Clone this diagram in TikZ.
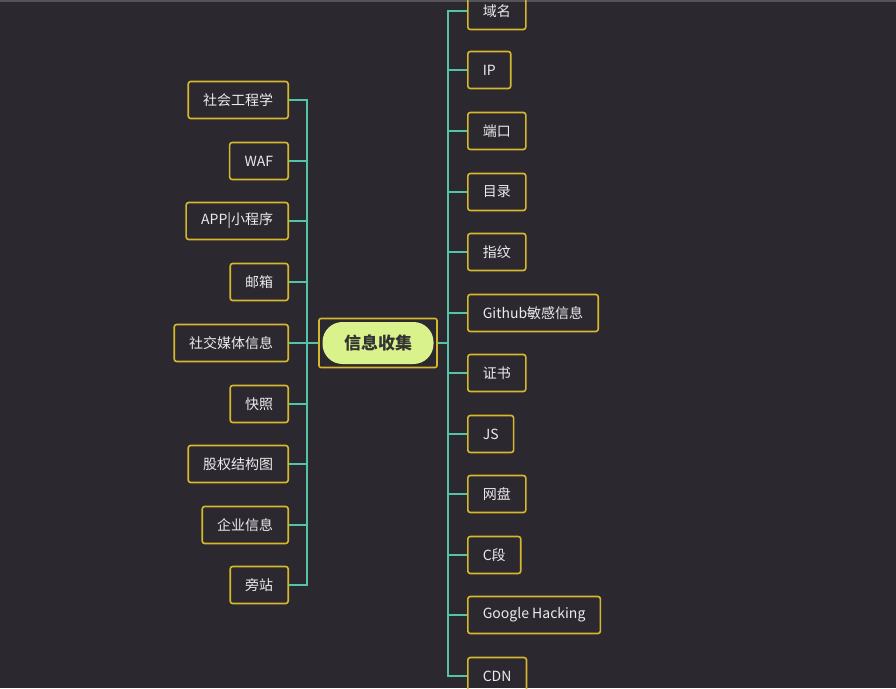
\documentclass[tikz,border=0pt]{standalone}
\usepackage{fontspec}
\usepackage{xcolor}
\usepackage{tikz}
\newfontfamily\cjk{Noto Sans CJK SC}
\definecolor{bgdark}{HTML}{2C2830}
\definecolor{boxgold}{HTML}{D6B82C}
\definecolor{linkteal}{HTML}{55C2AA}
\definecolor{rootgreen}{HTML}{D9F28C}
\definecolor{topgray}{HTML}{56545A}
\tikzset{
  leaf/.style={draw=boxgold, line width=1.6pt, rounded corners=2.5pt,
               text=white!92!black, font=\cjk\fontsize{14}{16}\selectfont,
               inner xsep=15pt, minimum height=37pt},
  link/.style={draw=linkteal, line width=2.4pt},
}
\begin{document}
\begin{tikzpicture}[x=1pt, y=-1pt]
      \useasboundingbox (0,0) rectangle (896,688);
      \clip (0,0) rectangle (896,688);
      \fill[bgdark] (0,0) rectangle (896,688);
      \draw[topgray, line width=1.6pt] (0,0.8) -- (896,0.8);

      % centre
      \node[draw=boxgold, line width=1.6pt, rounded corners=2pt,
            minimum width=118pt, minimum height=49pt] (rootbox) at (378,343) {};
      \node[fill=rootgreen, rounded corners=20pt, minimum width=111pt,
            minimum height=42pt, text=black!80,
            font=\cjk\bfseries\fontsize{17}{20}\selectfont] (root) at (378,343) {信息收集};

      % left side
      \coordinate (ltrunk) at (307,343);
      \node[leaf, anchor=east] (social)  at (289,100) {社会工程学};
      \node[leaf, anchor=east] (waf)     at (289,161) {WAF};
      \node[leaf, anchor=east] (app)     at (289,221) {APP|小程序};
      \node[leaf, anchor=east] (mail)    at (289,282) {邮箱};
      \node[leaf, anchor=east] (media)   at (289,343) {社交媒体信息};
      \node[leaf, anchor=east] (snap)    at (289,404) {快照};
      \node[leaf, anchor=east] (equity)  at (289,464) {股权结构图};
      \node[leaf, anchor=east] (company) at (289,525) {企业信息};
      \node[leaf, anchor=east] (side)    at (289,585) {旁站};

      \draw[link] (social.east)  -| (ltrunk);
      \draw[link] (waf.east)     -| (ltrunk);
      \draw[link] (app.east)     -| (ltrunk);
      \draw[link] (mail.east)    -| (ltrunk);
      \draw[link] (media.east)   -- (ltrunk);
      \draw[link] (snap.east)    -| (ltrunk);
      \draw[link] (equity.east)  -| (ltrunk);
      \draw[link] (company.east) -| (ltrunk);
      \draw[link] (side.east)    -| (ltrunk);
      \draw[link] (ltrunk) -- (rootbox.west);

      % right side
      \coordinate (rtrunk) at (448,343);
      \node[leaf, anchor=west] (domain) at (467,11)  {域名};
      \node[leaf, anchor=west] (ip)     at (467,70)  {IP};
      \node[leaf, anchor=west] (port)   at (467,131) {端口};
      \node[leaf, anchor=west] (dir)    at (467,192) {目录};
      \node[leaf, anchor=west] (finger) at (467,252) {指纹};
      \node[leaf, anchor=west] (github) at (467,313) {Github敏感信息};
      \node[leaf, anchor=west] (cert)   at (467,373) {证书};
      \node[leaf, anchor=west] (js)     at (467,434) {JS};
      \node[leaf, anchor=west] (disk)   at (467,494) {网盘};
      \node[leaf, anchor=west] (cseg)   at (467,555) {C段};
      \node[leaf, anchor=west] (google) at (467,615) {Google Hacking};
      \node[leaf, anchor=west] (cdn)    at (467,676) {CDN};

      \draw[link] (rootbox.east) -- (rtrunk);
      \draw[link] (rtrunk) |- (domain.west);
      \draw[link] (rtrunk) |- (ip.west);
      \draw[link] (rtrunk) |- (port.west);
      \draw[link] (rtrunk) |- (dir.west);
      \draw[link] (rtrunk) |- (finger.west);
      \draw[link] (rtrunk) |- (github.west);
      \draw[link] (rtrunk) |- (cert.west);
      \draw[link] (rtrunk) |- (js.west);
      \draw[link] (rtrunk) |- (disk.west);
      \draw[link] (rtrunk) |- (cseg.west);
      \draw[link] (rtrunk) |- (google.west);
      \draw[link] (rtrunk) |- (cdn.west);
\end{tikzpicture}
\end{document}
